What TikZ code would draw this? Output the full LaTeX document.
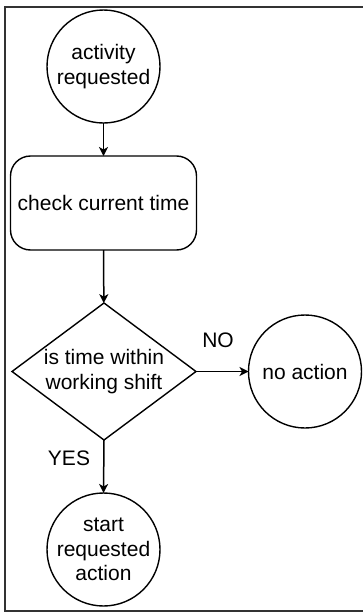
\documentclass[tikz,border=0pt]{standalone}
\usepackage{fontspec}
\setmainfont{Liberation Sans}
\usetikzlibrary{shapes.geometric,arrows.meta}
\begin{document}
\begin{tikzpicture}[x=1pt,y=-1pt,
  every node/.style={font=\fontsize{21}{24.5}\selectfont, align=center},
  shapeline/.style={draw=black, line width=1.4pt, inner sep=0pt, outer sep=0pt},
  terminal/.style={shapeline, circle, minimum size=113pt},
  process/.style={shapeline, rectangle, rounded corners=20pt,
                  minimum width=186pt, minimum height=94pt},
  decision/.style={shapeline, diamond, minimum width=184pt, minimum height=137pt},
  inside/.style={label={[align=center, inner sep=0pt]center:#1}},
  flow/.style={draw=black, line width=1.5pt, -{Stealth[length=9pt,width=9pt,inset=2.5pt]}},
  branch/.style={inner sep=0pt}]
  \useasboundingbox (0,0) rectangle (363,613);
  % outer frame
  \draw[line width=2pt, draw=black!80] (4.5,7) rectangle (370,611);

  \node[terminal, inside={activity\\requested}] (start) at (103.5,66.5) {};
  \node[process] (check) at (103.5,203) {check current time};
  \node[decision, inside={is time within\\working shift}] (shift) at (104,371.5) {};
  \node[terminal, inside={no action}] (none) at (305,371.5) {};
  \node[terminal, inside={start\\requested\\action}] (run) at (103.5,549.5) {};

  \draw[flow] (start) -- (check);
  \draw[flow] (check) -- (shift);
  \draw[flow] (shift.east) -- (none.west);
  \draw[flow] (shift.south) -- (run.north);

  \node[branch] (no) at (218,340.5) {NO};
  \node[branch] (yes) at (69,458.5) {YES};
\end{tikzpicture}
\end{document}
